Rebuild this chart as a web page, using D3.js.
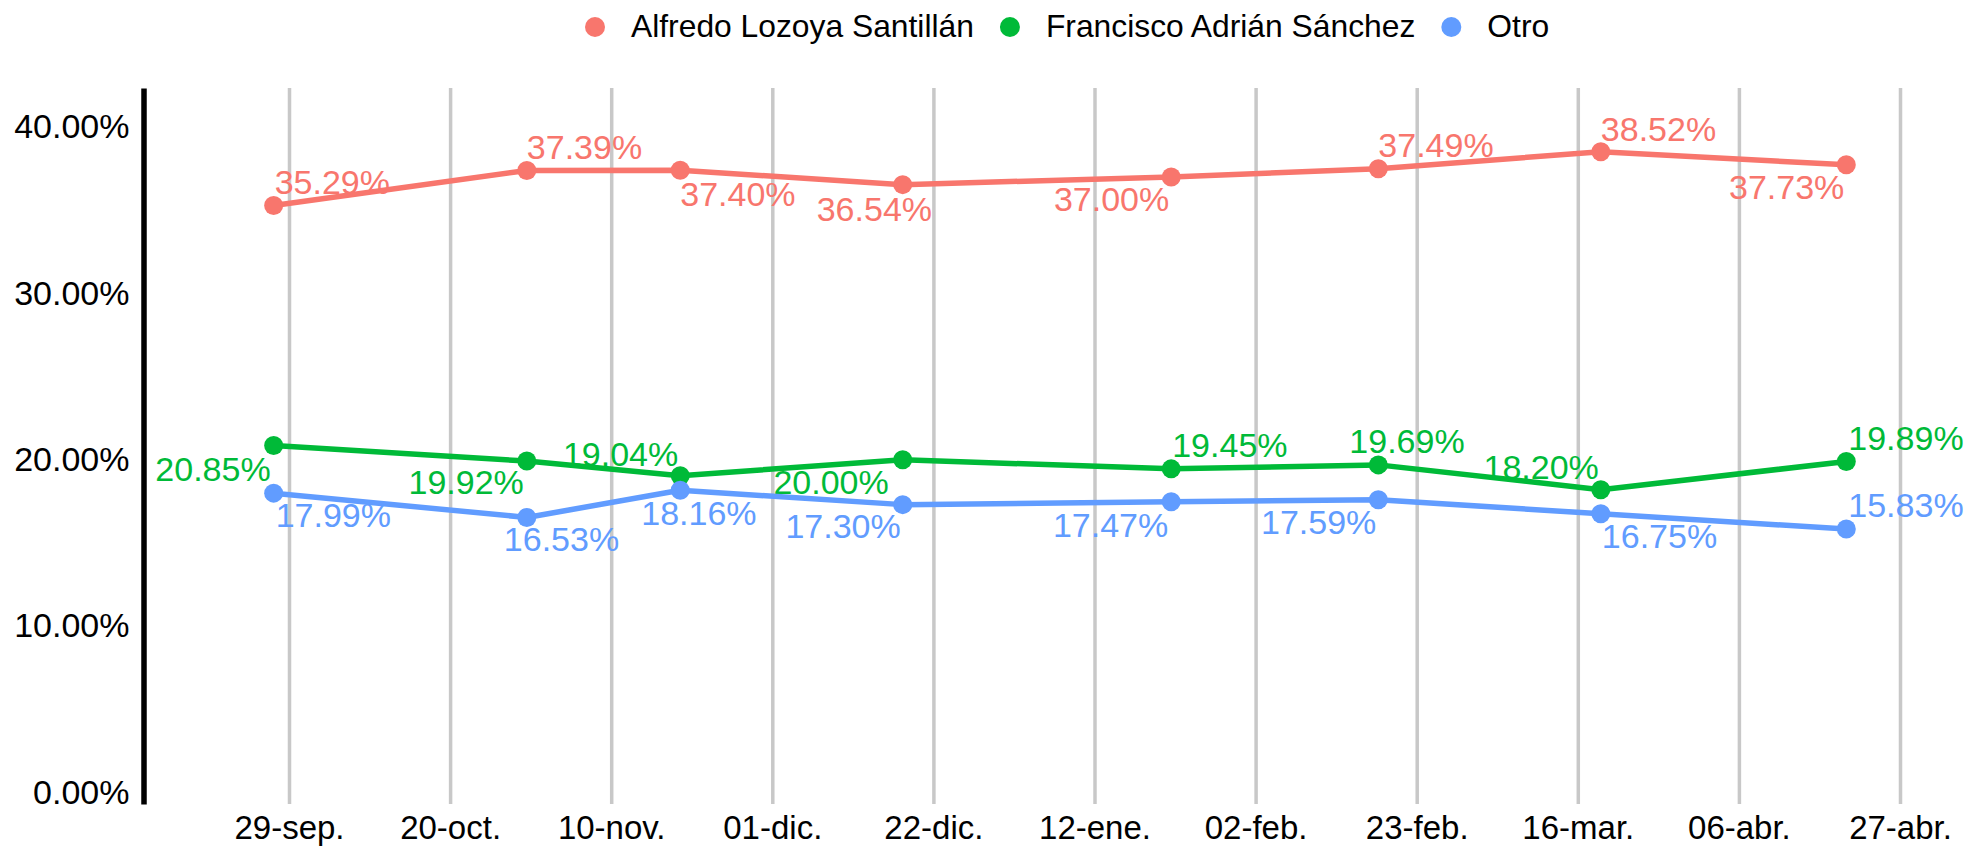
<!DOCTYPE html>
<html>
<head>
<meta charset="utf-8">
<script src="https://cdn.jsdelivr.net/npm/d3@7"></script>
<style>
  body { margin: 0; background: #fff; }
  text { font-family: "Liberation Sans", Arial, sans-serif; }
</style>
</head>
<body>
<svg id="chart" width="1967" height="848"></svg>
<script>
var names = ["Alfredo Lozoya Santillán", "Francisco Adrián Sánchez", "Otro"];
var colors = ["#F8766D", "#00BA38", "#619CFF"];
var dates = ["2020-09-27", "2020-10-30", "2020-11-19", "2020-12-18", "2021-01-22", "2021-02-18", "2021-03-19", "2021-04-20"];
var alfredo = [35.29, 37.39, 37.40, 36.54, 37.00, 37.49, 38.52, 37.73];
var francisco = [20.85, 19.92, 19.04, 20.00, 19.45, 19.69, 18.20, 19.89];
var otro = [17.99, 16.53, 18.16, 17.30, 17.47, 17.59, 16.75, 15.83];
var tickDates = ["2020-09-29", "2020-10-20", "2020-11-10", "2020-12-01", "2020-12-22", "2021-01-12", "2021-02-02", "2021-02-23", "2021-03-16", "2021-04-06", "2021-04-27"];
var yTicks = [0, 10, 20, 30, 40];

// where each value label sits next to its point: [anchor, dx, dy]
var labelPlace = [
  [["start", 1, -11], ["start", 0, -11], ["start", 0, 36], ["start", -86, 36], ["end", -2, 34], ["start", 0, -12], ["start", 0, -11], ["end", -2, 34]],
  [["end", -3, 35], ["end", -3, 33], ["end", -2, -10], ["end", -14, 34], ["start", 1, -12], ["start", -29, -12], ["end", -2, -11], ["start", 2, -12]],
  [["start", 2, 34], ["start", -23, 34], ["start", -39, 35], ["end", -2, 33], ["end", -3, 35], ["end", -2, 34], ["start", 1, 34], ["start", 2, -12]]
];

var parse = d3.timeParse("%Y-%m-%d");
var es = d3.timeFormatLocale({
  dateTime: "%A, %e de %B de %Y, %X", date: "%d/%m/%Y", time: "%H:%M:%S", periods: ["AM", "PM"],
  days: ["domingo", "lunes", "martes", "miércoles", "jueves", "viernes", "sábado"],
  shortDays: ["dom", "lun", "mar", "mié", "jue", "vie", "sáb"],
  months: ["enero", "febrero", "marzo", "abril", "mayo", "junio", "julio", "agosto", "septiembre", "octubre", "noviembre", "diciembre"],
  shortMonths: ["ene.", "feb.", "mar.", "abr.", "may.", "jun.", "jul.", "ago.", "sep.", "oct.", "nov.", "dic."]
});
var fmt = es.format("%d-%b");

var svg = d3.select("#chart");

var x = d3.scaleTime()
    .domain([parse(tickDates[0]), parse(tickDates[tickDates.length - 1])])
    .range([289, 1900]);
var y = d3.scaleLinear()
    .domain([-0.7, 42.35])
    .range([804, 88]);

var table = [alfredo, francisco, otro].map(function (vals, i) {
  return {
    name: names[i],
    color: colors[i],
    values: vals.map(function (v, j) { return { date: parse(dates[j]), value: v, place: labelPlace[i][j] }; })
  };
});

// vertical grid
svg.append("g")
    .attr("transform", "translate(0,804)")
    .call(d3.axisBottom(x).tickValues(tickDates.map(parse)).tickSize(-716).tickFormat(""))
    .call(function (g) { g.select(".domain").remove(); })
    .selectAll("line")
    .attr("stroke", "#c8c8c8")
    .attr("stroke-width", 3.5);

// x labels
svg.append("g")
    .attr("transform", "translate(0,804)")
    .call(d3.axisBottom(x).tickValues(tickDates.map(parse)).tickSize(0).tickPadding(12).tickFormat(fmt))
    .call(function (g) { g.select(".domain").remove(); })
    .selectAll("text")
    .attr("fill", "#000")
    .style("font-size", "33px");

// y axis
var yAxis = svg.append("g")
    .attr("transform", "translate(143.5,0)")
    .call(d3.axisLeft(y).tickValues(yTicks).tickSize(0).tickPadding(14)
      .tickFormat(function (d) { return d.toFixed(2) + "%"; }));
yAxis.select(".domain")
    .attr("stroke", "#000")
    .attr("stroke-width", 5.5);
yAxis.selectAll("text")
    .attr("fill", "#000")
    .style("font-size", "34px");

var line = d3.line()
    .x(function (d) { return x(d.date); })
    .y(function (d) { return y(d.value); });

var groups = svg.selectAll(".serie")
    .data(table)
    .enter().append("g")
    .attr("class", "serie");

groups.append("path")
    .attr("fill", "none")
    .attr("stroke", function (d) { return d.color; })
    .attr("stroke-width", 5.5)
    .attr("stroke-linejoin", "round")
    .attr("d", function (d) { return line(d.values); });

groups.selectAll("circle")
    .data(function (d) { return d.values.map(function (v) { v.color = d.color; return v; }); })
    .enter().append("circle")
    .attr("cx", function (d) { return x(d.date); })
    .attr("cy", function (d) { return y(d.value); })
    .attr("r", 9.5)
    .attr("fill", function (d) { return d.color; });

groups.selectAll(".lbl")
    .data(function (d) { return d.values; })
    .enter().append("text")
    .attr("class", "lbl")
    .attr("x", function (d) { return x(d.date) + d.place[1]; })
    .attr("y", function (d) { return y(d.value) + d.place[2]; })
    .attr("text-anchor", function (d) { return d.place[0]; })
    .attr("fill", function (d) { return d.color; })
    .style("font-size", "34px")
    .text(function (d) { return d.value.toFixed(2) + "%"; });

// legend
var lx = 595;
names.forEach(function (n, i) {
  svg.append("circle")
      .attr("cx", lx)
      .attr("cy", 27)
      .attr("r", 10)
      .attr("fill", colors[i]);
  var t = svg.append("text")
      .attr("x", lx + 36)
      .attr("y", 37)
      .attr("fill", "#000")
      .style("font-size", "31.8px")
      .text(n);
  lx = lx + 36 + t.node().getComputedTextLength() + 36;
});
</script>
</body>
</html>
